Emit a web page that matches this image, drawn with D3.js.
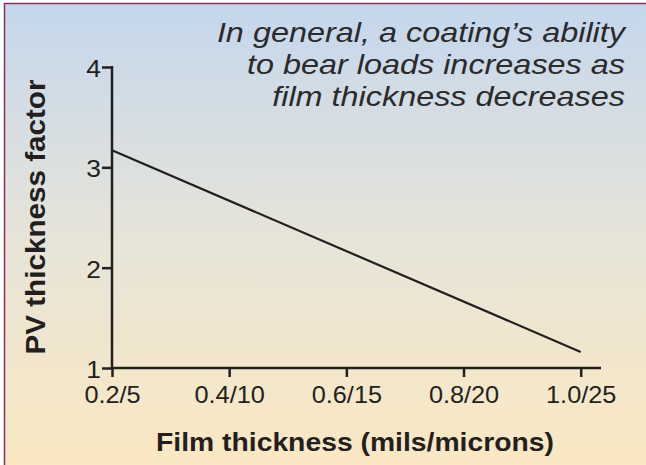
<!DOCTYPE html>
<html>
<head>
<meta charset="utf-8">
<script src="https://cdn.jsdelivr.net/npm/d3@7"></script>
<style>
  html, body { margin: 0; padding: 0; background: #ffffff; }
  svg { display: block; }
  text { font-family: "Liberation Sans", Arial, Helvetica, sans-serif; }
</style>
</head>
<body>
<svg id="chart" width="646" height="465"></svg>
<script>
// ---- data ----
const xTicks = [0.2, 0.4, 0.6, 0.8, 1.0];
const xTickLabels = ["0.2/5", "0.4/10", "0.6/15", "0.8/20", "1.0/25"];
const yTicks = [1, 2, 3, 4];
const lineX = [0.2, 1.0];
const lineY = [3.17, 1.16];
const noteLines = [
  "In general, a coating\u2019s ability",
  "to bear loads increases as",
  "film thickness decreases"
];
const xTitle = "Film thickness (mils/microns)";
const yTitle = "PV thickness factor";

// ---- layout ----
const W = 646, H = 465;
const svg = d3.select("#chart");
const ink = "#231f20";

// background gradient
const defs = svg.append("defs");
const grad = defs.append("linearGradient").attr("id", "bg")
  .attr("x1", 0).attr("y1", 0).attr("x2", 0).attr("y2", 1);
grad.append("stop").attr("offset", "0%").attr("stop-color", "#c4d7ed");
grad.append("stop").attr("offset", "50%").attr("stop-color", "#e6e4d9");
grad.append("stop").attr("offset", "100%").attr("stop-color", "#fbe8c2");

svg.append("rect").attr("x", 4).attr("y", 3).attr("width", W - 4).attr("height", H - 3)
  .attr("fill", "url(#bg)");
// border (top and left)
svg.append("line").attr("x1", 4).attr("y1", 3.5).attr("x2", W).attr("y2", 3.5)
  .attr("stroke", "#8c2f5f").attr("stroke-width", 1.5);
svg.append("line").attr("x1", 4.5).attr("y1", 3).attr("x2", 4.5).attr("y2", H)
  .attr("stroke", "#8c2f5f").attr("stroke-width", 1.5);

// scales
const x = d3.scaleLinear().domain([0.2, 1.0]).range([112, 580.7]);
const y = d3.scaleLinear().domain([1, 4]).range([368, 67]);
const xAxisEnd = 601;

// axes
const gx = svg.append("g").attr("transform", `translate(0,${y(1)})`)
  .call(d3.axisBottom(x).tickValues(xTicks).tickSize(9).tickSizeOuter(0)
    .tickFormat((d, i) => xTickLabels[i]));
gx.select(".domain").remove();
gx.append("line").attr("x1", x(0.2) - 1).attr("x2", xAxisEnd).attr("y1", 0).attr("y2", 0)
  .attr("stroke", ink).attr("stroke-width", 2.5);
gx.selectAll(".tick line").attr("stroke", ink).attr("stroke-width", 2.5);
gx.selectAll(".tick text")
  .attr("fill", ink).attr("font-size", 23).attr("font-family", "Liberation Sans, Arial, sans-serif")
  .attr("y", 0).attr("dy", 0)
  .attr("transform", "translate(0,35) scale(1.1,1)");

const gy = svg.append("g").attr("transform", `translate(${x(0.2)},0)`)
  .call(d3.axisLeft(y).tickValues(yTicks).tickSize(10).tickSizeOuter(0).tickFormat(d3.format("d")));
gy.select(".domain").remove();
gy.append("line").attr("x1", 0).attr("x2", 0).attr("y1", y(4) - 1).attr("y2", y(1) + 1)
  .attr("stroke", ink).attr("stroke-width", 2.5);
gy.selectAll(".tick line").attr("stroke", ink).attr("stroke-width", 2.5);
gy.selectAll(".tick text")
  .attr("fill", ink).attr("font-size", 24).attr("font-family", "Liberation Sans, Arial, sans-serif")
  .attr("x", 0).attr("dy", "0.36em")
  .attr("transform", "translate(-11,1) scale(1.1,1)");

// data line
const pts = lineX.map((v, i) => [v, lineY[i]]);
svg.append("path").datum(pts)
  .attr("d", d3.line().x(d => x(d[0])).y(d => y(d[1])))
  .attr("fill", "none").attr("stroke", ink).attr("stroke-width", 2.2);

// annotation
const note = svg.append("g");
noteLines.forEach((t, i) => {
  note.append("text")
    .attr("transform", `translate(625,${42 + i * 32}) scale(1.2,1)`)
    .attr("text-anchor", "end")
    .attr("font-size", 27).attr("font-style", "italic").attr("font-weight", 300)
    .attr("fill", "#2b2b2b")
    .text(t);
});

// axis titles
svg.append("text")
  .attr("x", 355).attr("y", 451)
  .attr("text-anchor", "middle")
  .attr("font-size", 25).attr("font-weight", "bold").attr("fill", ink)
  .attr("textLength", 398).attr("lengthAdjust", "spacingAndGlyphs")
  .text(xTitle);

svg.append("text")
  .attr("transform", "translate(45,217) rotate(-90)")
  .attr("text-anchor", "middle")
  .attr("font-size", 27).attr("font-weight", "bold").attr("fill", ink)
  .attr("textLength", 275).attr("lengthAdjust", "spacingAndGlyphs")
  .text(yTitle);
</script>
</body>
</html>
